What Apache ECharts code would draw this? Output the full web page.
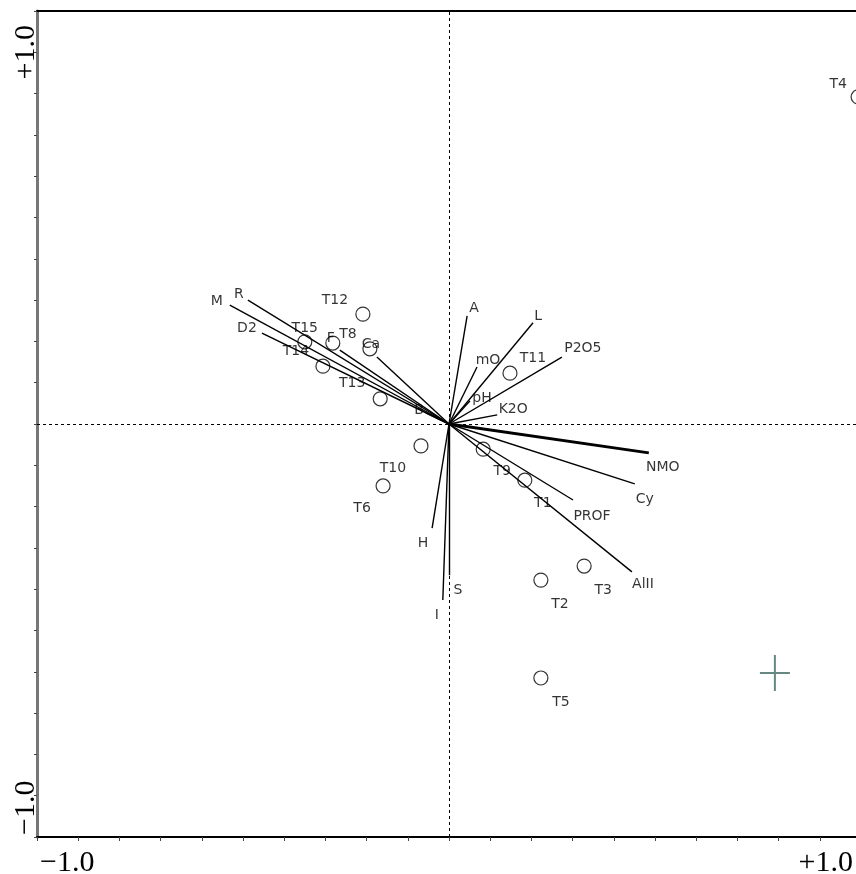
<!DOCTYPE html>
<html><head><meta charset="utf-8">
<script src="https://cdn.jsdelivr.net/npm/echarts@6/dist/echarts.min.js"></script>
<style>html,body{margin:0;padding:0;background:#fff}#c{width:856px;height:874px}</style>
</head><body><div id="c"></div>
<script>
// Sites (circles)
const siteNames = ['T1','T2','T3','T4','T5','T6','T7','T8','T9','T10','T11','T12','T13','T14','T15'];
const siteX = [0.184, 0.223, 0.328, 0.993, 0.223, -0.160, -0.282, -0.192, 0.083, -0.068, 0.148, -0.209, -0.167, -0.306, -0.350];
const siteY = [-0.136, -0.378, -0.344, 0.792, -0.615, -0.150, 0.196, 0.182, -0.061, -0.053, 0.123, 0.266, 0.061, 0.140, 0.199];
// Environmental variables (vectors from origin)
const varNames = ['A','L','P2O5','mO','pH','K2O','NMO','Cy','PROF','AlII','H','S','I','M','R','D2','F','Ca','B'];
const varX = [0.044, 0.204, 0.274, 0.068, 0.051, 0.117, 0.485, 0.451, 0.301, 0.444, -0.041, 0.000, -0.015, -0.532, -0.488, -0.454, -0.265, -0.175, -0.056];
const varY = [0.262, 0.245, 0.162, 0.138, 0.056, 0.022, -0.070, -0.145, -0.184, -0.358, -0.252, -0.366, -0.426, 0.288, 0.300, 0.220, 0.179, 0.162, 0.027];
// Centroid cross
const centroidX = [0.791];
const centroidY = [-0.603];
// Axis end labels
const tickValues = [-1, 1];
const xTickLabels = ['\u22121.0', '+1.0'];
const yTickLabels = ['\u22121.0', '+1.0'];

// label offsets (style / layout)
const siteLabelOffset = {
  T1:[18,23], T2:[19,24], T3:[19,24], T4:[-20,-13], T5:[20,24], T6:[-21,22], T7:null,
  T8:[-22,-14], T9:[19,22], T10:[-28,22], T11:[23,-15], T12:[-28,-14], T13:[-28,-15],
  T14:[-27,-15], T15:[0,-13]
};
const varLabelOffset = {
  A:[7,-7], L:[5,-6], P2O5:[21,-9], mO:[11,-7], pH:[12,-3], K2O:[16,-6], NMO:[14,14],
  Cy:[10,15], PROF:[19,16], AlII:[11,13], H:[-9,15], S:[9,15], I:[-6,15], M:[-13,-4],
  R:[-9,-6], D2:[-15,-5], F:[-9,-12], Ca:[-6,-13], B:[-7,-2]
};
const labelFont = {fontFamily:'DejaVu Sans', fontSize:14, color:'#000'};

const chart = echarts.init(document.getElementById('c'), null, {renderer:'canvas'});

const option = {
  animation:false,
  backgroundColor:'#fff',
  grid:{left:37, width:824, top:11, height:826, containLabel:false, outerBoundsMode:'none'},
  xAxis:[
    {type:'value', min:-1, max:1, interval:0.1, position:'bottom',
     axisLine:{show:true, onZero:false, lineStyle:{color:'#000', width:2}},
     axisTick:{show:true, length:4, lineStyle:{color:'#444', width:1}},
     axisLabel:{show:false}, splitLine:{show:false}},
    {type:'value', min:-1, max:1, position:'top',
     axisLine:{show:true, onZero:false, lineStyle:{color:'#000', width:2}},
     axisTick:{show:false}, axisLabel:{show:false}, splitLine:{show:false}}
  ],
  yAxis:{type:'value', min:-1, max:1, interval:0.1,
     axisLine:{show:true, onZero:false, lineStyle:{color:'#777', width:3}},
     axisTick:{show:true, length:3, lineStyle:{color:'#444', width:1}},
     axisLabel:{show:false}, splitLine:{show:false}},
  series:[
    {type:'lines', coordinateSystem:'cartesian2d', silent:true, z:3,
     lineStyle:{color:'#000', width:1.4, opacity:1},
     data: varNames.map((n,i)=>({coords:[[0,0],[varX[i],varY[i]]],
        lineStyle:{width: n==='NMO' ? 2.8 : 1.4}})) },
    {type:'scatter', z:4, silent:true, symbolSize:2, itemStyle:{color:'rgba(0,0,0,0)'},
     data: varNames.map((n,i)=>({value:[varX[i],varY[i]], name:n,
        label:{show:true, position:'inside', offset:varLabelOffset[n], formatter:n,
          align:'center', verticalAlign:'middle', ...labelFont}})) },
    {type:'scatter', z:5, silent:true, symbol:'circle', symbolSize:14,
     itemStyle:{color:'rgba(255,255,255,0)', borderColor:'#000', borderWidth:1.2},
     data: siteNames.map((n,i)=>({value:[siteX[i],siteY[i]], name:n,
        label: siteLabelOffset[n] ? {show:true, position:'inside', offset:siteLabelOffset[n], formatter:n,
          align:'center', verticalAlign:'middle', ...labelFont} : {show:false}})),
     markLine:{silent:true, symbol:'none', animation:false, label:{show:false},
       lineStyle:{type:[3,3], color:'#000', width:1},
       data:[{xAxis:0},{yAxis:0}]} },
    {type:'scatter', z:6, silent:true,
     symbol:'path://M14,0 L16,0 L16,17 L30,17 L30,19 L16,19 L16,36 L14,36 L14,19 L0,19 L0,17 L14,17 Z',
     symbolSize:[30,36], itemStyle:{color:'#3f6a63'},
     data: centroidX.map((x,i)=>[x, centroidY[i]])}
  ]
};
chart.setOption(option);

// axis end labels from the axis scale
const serif = {fontFamily:'Liberation Serif', fontSize:30, fill:'#000'};
const g = [];
tickValues.forEach((v,i)=>{
  const p = chart.convertToPixel({gridIndex:0}, [v, -1]);
  g.push({type:'text', x: i===0 ? p[0]+3 : Math.min(p[0]-8, 853), y: p[1]+11,
    style:{text:xTickLabels[i], align: i===0 ? 'left' : 'right', verticalAlign:'top', ...serif}});
  const q = chart.convertToPixel({gridIndex:0}, [-1, v]);
  g.push({type:'text', x: q[0]-11, y: i===0 ? q[1]-2 : q[1]+14, rotation: Math.PI/2,
    style:{text:yTickLabels[i], align: i===0 ? 'left' : 'right', verticalAlign:'middle', ...serif}});
});
chart.setOption({graphic:g});
</script></body></html>
